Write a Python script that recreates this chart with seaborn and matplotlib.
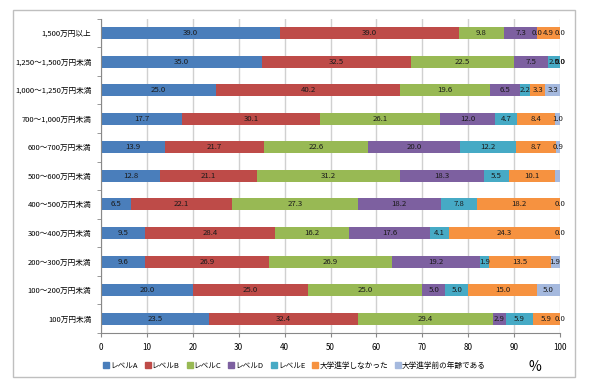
import matplotlib
matplotlib.use("Agg")
import matplotlib.pyplot as plt
import seaborn as sns
import numpy as np
import pandas as pd
from matplotlib.patches import Rectangle
from matplotlib.lines import Line2D

categories = ["1,500万円以上", "1,250～1,500万円未満", "1,000～1,250万円未満", "700～1,000万円未満",
              "600～700万円未満", "500～600万円未満", "400～500万円未満", "300～400万円未満",
              "200～300万円未満", "100～200万円未満", "100万円未満"]
series_names = ["レベルA", "レベルB", "レベルC", "レベルD", "レベルE", "大学進学しなかった", "大学進学前の年齢である"]
level_a = [39.0, 35.0, 25.0, 17.7, 13.9, 12.8, 6.5, 9.5, 9.6, 20.0, 23.5]
level_b = [39.0, 32.5, 40.2, 30.1, 21.7, 21.1, 22.1, 28.4, 26.9, 25.0, 32.4]
level_c = [9.8, 22.5, 19.6, 26.1, 22.6, 31.2, 27.3, 16.2, 26.9, 25.0, 29.4]
level_d = [7.3, 7.5, 6.5, 12.0, 20.0, 18.3, 18.2, 17.6, 19.2, 5.0, 2.9]
level_e = [0.0, 2.5, 2.2, 4.7, 12.2, 5.5, 7.8, 4.1, 1.9, 5.0, 5.9]
no_univ = [4.9, 0.0, 3.3, 8.4, 8.7, 10.1, 18.2, 24.3, 13.5, 15.0, 5.9]
pre_univ = [0.0, 0.0, 3.3, 1.0, 0.9, 1.0, 0.0, 0.0, 1.9, 5.0, 0.0]
hidden_labels = {(5, 6)}  # (row, series) whose label is not shown in the original

colors = ["#4A7EBB", "#BE4B48", "#98B954", "#7D60A0", "#46AAC5", "#F69240", "#A5B9DE"]

series = [level_a, level_b, level_c, level_d, level_e, no_univ, pre_univ]
vals = np.array(series)  # shape (7, 11)
cum = np.cumsum(vals, axis=0)

plt.rcParams['font.family'] = ['Noto Sans CJK JP', 'DejaVu Sans']

fig = plt.figure(figsize=(5.91, 3.89), dpi=100)
ax = fig.add_axes([0.171, 0.144, 0.7765, 0.808])

# frame around chart
fig.patches.append(Rectangle((0.022, 0.031), 0.951, 0.943, transform=fig.transFigure,
                             fill=False, edgecolor="#BFBFBF", linewidth=1.0))

for i in range(len(series) - 1, -1, -1):
    df = pd.DataFrame({"cat": categories, "val": cum[i]})
    sns.barplot(data=df, x="val", y="cat", orient="h", color=colors[i], width=0.42,
                saturation=1, ax=ax, zorder=2, linewidth=0)

# data labels
for i in range(len(series)):
    for j in range(len(categories)):
        if (j, i) in hidden_labels:
            continue
        v = vals[i, j]
        xc = cum[i, j] - v / 2
        ax.text(xc, j, f"{v:.1f}", ha="center", va="center", fontsize=5.6, color="#1a1a1a", zorder=5)

ax.set_xlim(0, 100)
ax.set_ylim(len(categories) - 0.5, -0.5)
ax.set_xticks(np.arange(0, 101, 10))
ax.tick_params(axis="x", labelsize=5.8, length=3, color="#888888", pad=4)
ax.tick_params(axis="y", which="major", labelsize=5.5, length=0, pad=7)
ax.set_yticks(np.arange(-0.5, len(categories), 1), minor=True)
ax.tick_params(axis="y", which="minor", length=3, color="#888888")
ax.set_xlabel("")
ax.set_ylabel("")
ax.grid(axis="x", color="#D0D0D0", linewidth=1.0, zorder=0)
ax.set_axisbelow(True)
for s in ["top", "right"]:
    ax.spines[s].set_visible(False)
for s in ["left", "bottom"]:
    ax.spines[s].set_color("#888888")
    ax.spines[s].set_linewidth(0.8)

handles = [Line2D([0], [0], marker="s", linestyle="", markersize=4.5, markerfacecolor=c,
                  markeredgecolor=c) for c in colors]
fig.legend(handles, series_names, loc="center left", bbox_to_anchor=(0.163, 0.059), ncol=7,
           frameon=False, fontsize=5.5, handlelength=0.7, handletextpad=0.2, columnspacing=0.95)
fig.text(0.905, 0.056, "%", fontsize=10, ha="center", va="center")

fig.savefig("out.png", dpi=100)
